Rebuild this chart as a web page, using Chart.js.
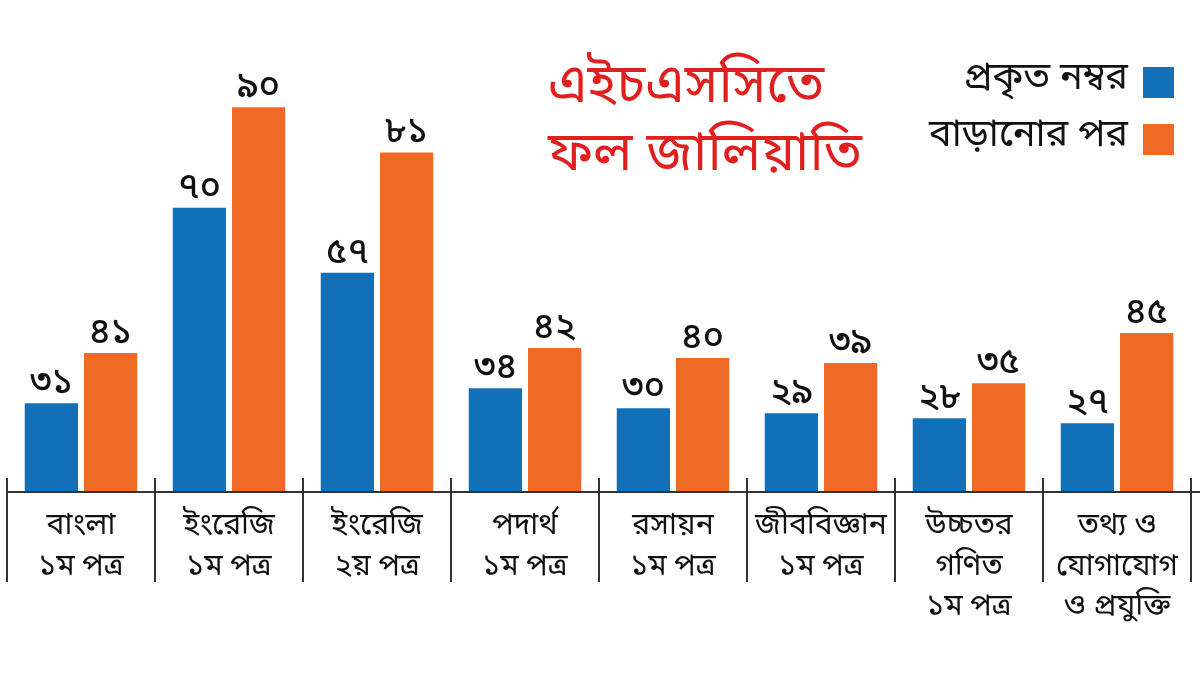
<!DOCTYPE html>
<html>
<head>
<meta charset="utf-8">
<script src="https://cdn.jsdelivr.net/npm/chart.js@4.4.1/dist/chart.umd.min.js"></script>
<style>
  html, body { margin: 0; padding: 0; background: #fff; }
  #wrap { width: 1200px; height: 675px; }
</style>
</head>
<body>
<div id="wrap"><canvas id="myChart" width="1200" height="675"></canvas></div>
<script>
const subjects = [
    ["বাংলা", "১ম পত্র"],
    ["ইংরেজি", "১ম পত্র"],
    ["ইংরেজি", "২য় পত্র"],
    ["পদার্থ", "১ম পত্র"],
    ["রসায়ন", "১ম পত্র"],
    ["জীববিজ্ঞান", "১ম পত্র"],
    ["উচ্চতর", "গণিত", "১ম পত্র"],
    ["তথ্য ও", "যোগাযোগ", "ও প্রযুক্তি"]
];
const actualMarks = [31, 70, 57, 34, 30, 29, 28, 27];
const raisedMarks = [41, 90, 81, 42, 40, 39, 35, 45];
const seriesNames = ["প্রকৃত নম্বর", "বাড়ানোর পর"];
const titleLines = ["এইচএসসিতে", "ফল জালিয়াতি"];

const BLUE = "#1170b8";
const ORANGE = "#ef6a24";
const FONT = "'Noto Sans Bengali', 'Lohit Bengali', 'Noto Sans', sans-serif";

const bnDigits = "০১২৩৪৫৬৭৮৯";
function toBangla(n) {
    return String(n).replace(/[0-9]/g, d => bnDigits[d]);
}

// value labels over each bar
const valueLabels = {
    id: "valueLabels",
    afterDatasetsDraw(chart) {
        const ctx = chart.ctx;
        ctx.save();
        ctx.fillStyle = "#111";
        ctx.font = "500 36px " + FONT;
        ctx.textAlign = "center";
        ctx.textBaseline = "bottom";
        chart.data.datasets.forEach((ds, i) => {
            chart.getDatasetMeta(i).data.forEach((bar, j) => {
                ctx.fillText(toBangla(ds.data[j]), bar.x, bar.y + 1);
            });
        });
        ctx.restore();
    }
};

// separators between categories + baseline
const axisDecor = {
    id: "axisDecor",
    afterDraw(chart) {
        const ctx = chart.ctx;
        const x = chart.scales.x;
        const area = chart.chartArea;
        const half = (x.getPixelForValue(1) - x.getPixelForValue(0)) / 2;
        ctx.save();
        ctx.strokeStyle = "#333";
        ctx.lineWidth = 2;
        ctx.beginPath();
        ctx.moveTo(area.left, area.bottom);
        ctx.lineTo(1200, area.bottom);
        for (let i = 0; i <= subjects.length; i++) {
            const px = x.getPixelForValue(i) - half;
            ctx.moveTo(px, area.bottom - 14);
            ctx.lineTo(px, area.bottom + 90);
        }
        ctx.stroke();
        ctx.restore();
    }
};

// title and legend in the top right
const headerDecor = {
    id: "headerDecor",
    afterDraw(chart) {
        const ctx = chart.ctx;
        ctx.save();
        ctx.fillStyle = "#e0201f";
        ctx.font = "54px " + FONT;
        ctx.textAlign = "left";
        ctx.textBaseline = "middle";
        ctx.fillText(titleLines[0], 548, 92);
        ctx.fillText(titleLines[1], 548, 160);

        ctx.font = "38px " + FONT;
        ctx.textAlign = "right";
        chart.data.datasets.forEach((ds, i) => {
            const cy = 82 + i * 57;
            ctx.fillStyle = "#111";
            ctx.fillText(ds.label, 1128, cy);
            ctx.fillStyle = ds.backgroundColor;
            ctx.fillRect(1143, cy - 15, 31, 31);
        });
        ctx.restore();
    }
};

const ctx = document.getElementById("myChart").getContext("2d");
new Chart(ctx, {
    type: "bar",
    data: {
        labels: subjects,
        datasets: [
            { label: seriesNames[0], data: actualMarks, backgroundColor: BLUE },
            { label: seriesNames[1], data: raisedMarks, backgroundColor: ORANGE }
        ]
    },
    options: {
        responsive: false,
        animation: false,
        layout: { padding: { left: 7, right: 9, top: 0, bottom: 0 } },
        plugins: {
            legend: { display: false },
            title: { display: false },
            tooltip: { enabled: false }
        },
        datasets: {
            bar: { categoryPercentage: 0.8, barPercentage: 0.9 }
        },
        scales: {
            x: {
                grid: { display: false, drawTicks: false },
                border: { display: false },
                ticks: {
                    color: "#111",
                    font: { family: FONT, size: 30, lineHeight: 1.35 },
                    padding: 16,
                    maxRotation: 0,
                    autoSkip: false
                },
                afterFit(scale) { scale.height = 183; }
            },
            y: {
                display: false,
                min: 13.3,
                max: 111.4
            }
        }
    },
    plugins: [valueLabels, axisDecor, headerDecor]
});
</script>
</body>
</html>
